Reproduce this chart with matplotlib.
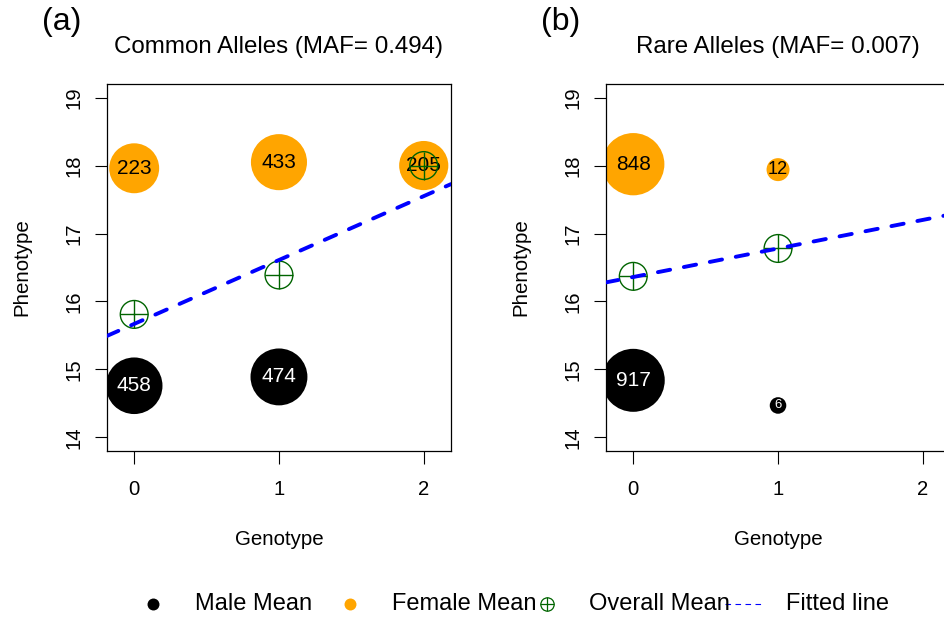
import numpy as np
import matplotlib
matplotlib.use("Agg")
import matplotlib.pyplot as plt

plt.rcParams['font.family'] = ['Liberation Sans', 'DejaVu Sans']

# genotype groups
genotype = [0, 1, 2]

# (a) common alleles
male_geno_a = [0, 1]
male_mean_a = [14.76, 14.89]
male_n_a = [458, 474]
female_mean_a = [17.96, 18.05, 18.00]
female_n_a = [223, 433, 205]
overall_mean_a = [15.81, 16.39, 18.00]
fit_a = (15.67, 0.94)  # intercept, slope

# (b) rare alleles
geno_b = [0, 1]
male_mean_b = [14.84, 14.47]
male_n_b = [917, 6]
female_mean_b = [18.02, 17.94]
female_n_b = [848, 12]
overall_mean_b = [16.37, 16.78]
fit_b = (16.36, 0.42)

titles = ["Common Alleles (MAF= 0.494)", "Rare Alleles (MAF= 0.007)"]
tags = ["(a)", "(b)"]

GREEN = '#006400'
ORANGE = '#FFA500'


def bubble_size(n):
    # marker radius grows with log of the group size
    return (6.65 * np.log(np.asarray(n, dtype=float))) ** 2


def label_size(n):
    return 15 * min(1.0, np.log(n) / 2.85)


def draw_panel(ax, mx, my, mn, fx, fy, fn, ox, oy, fit, title, tag):
    ax.scatter(mx, my, s=bubble_size(mn), color='black', linewidths=0, zorder=2)
    ax.scatter(fx, fy, s=bubble_size(fn), color=ORANGE, linewidths=0, zorder=2)
    for x, y, n in zip(mx, my, mn):
        ax.text(x, y, str(n), color='white', ha='center', va='center',
                fontsize=label_size(n), zorder=3)
    for x, y, n in zip(fx, fy, fn):
        ax.text(x, y, str(n), color='black', ha='center', va='center',
                fontsize=label_size(n), zorder=3)
    # overall mean: circle with cross
    ax.scatter(ox, oy, s=400, facecolors='none', edgecolors=GREEN,
               linewidths=1.0, zorder=4)
    ax.scatter(ox, oy, s=400, marker='+', color=GREEN, linewidths=1.0, zorder=4)
    ax.axline((0, fit[0]), slope=fit[1], color='blue', lw=2.8,
              dashes=(3.2, 3.6), dash_capstyle='round', zorder=5)

    ax.set_xlim(-0.188, 2.188)
    ax.set_ylim(13.8, 19.2)
    ax.set_xticks([0, 1, 2])
    ax.set_yticks([14, 15, 16, 17, 18, 19])
    ax.tick_params(direction='out', length=9, width=0.8, labelsize=14.6)
    ax.tick_params(axis='x', pad=12)
    ax.tick_params(axis='y', pad=8)
    for lab in ax.get_yticklabels():
        lab.set_rotation(90)
        lab.set_va('center')
    for sp in ax.spines.values():
        sp.set_linewidth(0.9)

    ax.text(0.5, 1.1008, title, transform=ax.transAxes, ha='center',
            va='center', fontsize=17.4)
    ax.text(-0.131, 1.17, tag, transform=ax.transAxes, ha='center',
            va='center', fontsize=23)
    ax.text(0.5, -0.2398, "Genotype", transform=ax.transAxes, ha='center',
            va='center', fontsize=14.8)
    ax.text(-0.248, 0.5, "Phenotype", transform=ax.transAxes, ha='center',
            va='center', rotation=90, fontsize=14.8)


fig = plt.figure(figsize=(9.45, 6.19), dpi=100)

ax1 = fig.add_axes([0.1132, 0.2714, 0.364, 0.5929])
draw_panel(ax1, male_geno_a, male_mean_a, male_n_a,
           genotype, female_mean_a, female_n_a,
           genotype, overall_mean_a, fit_a, titles[0], tags[0])

ax2 = fig.add_axes([0.6413, 0.2714, 0.364, 0.5929])
draw_panel(ax2, geno_b, male_mean_b, male_n_b,
           geno_b, female_mean_b, female_n_b,
           geno_b, overall_mean_b, fit_b, titles[1], tags[1])

# legend row along the bottom, laid out like R's horizontal legend
leg = fig.add_axes([0, 0, 1, 1], facecolor='none')
leg.set_xlim(0, 945)
leg.set_ylim(619, 0)
leg.axis('off')
ly = 604
step = 197
x0 = 153
leg.plot([x0], [ly], 'o', color='black', ms=8.6, mew=0)
leg.plot([x0 + step], [ly], 'o', color=ORANGE, ms=8.6, mew=0)
leg.plot([x0 + 2 * step], [ly], 'o', mfc='none', mec=GREEN, ms=9.6, mew=0.9)
leg.plot([x0 + 2 * step], [ly], '+', color=GREEN, ms=9.6, mew=0.9)
leg.plot([x0 + 3 * step - 19, x0 + 3 * step + 19], [ly, ly], color='blue',
         lw=0.8, dashes=(5, 4))
for i, name in enumerate(["Male Mean", "Female Mean", "Overall Mean", "Fitted line"]):
    leg.text(x0 + i * step + 42, ly, name, ha='left', va='center', fontsize=17)

plt.savefig('out.png', dpi=100)
